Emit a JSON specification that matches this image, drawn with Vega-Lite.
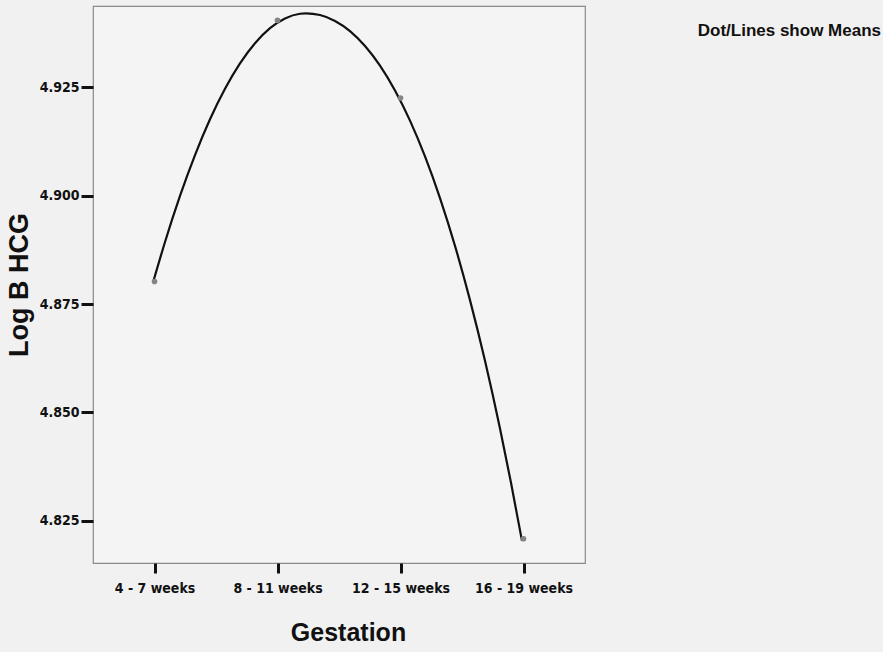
{
  "$schema": "https://vega.github.io/schema/vega-lite/v6.json",
  "width": 492,
  "height": 557,
  "autosize": "none",
  "padding": {"left": 93, "top": 6, "right": 298, "bottom": 89},
  "background": "#f1f1f1",
  "config": {
    "view": {"stroke": "#8a8a8a", "strokeWidth": 1.2, "fill": "#f4f4f4"},
    "font": "Liberation Sans"
  },
  "title": {
    "text": "Dot/Lines show Means",
    "anchor": "end",
    "orient": "top",
    "dx": 296,
    "dy": 38,
    "fontSize": 17,
    "fontWeight": "bold",
    "font": "Liberation Sans",
    "color": "#111"
  },
  "datasets": {
    "means": [
      {"idx": 0, "gestation": "4 - 7 weeks", "mean": 4.8802},
      {"idx": 1, "gestation": "8 - 11 weeks", "mean": 4.9404},
      {"idx": 2, "gestation": "12 - 15 weeks", "mean": 4.9225},
      {"idx": 3, "gestation": "16 - 19 weeks", "mean": 4.8209}
    ],
    "curve": [
      {"idx": -0.0122, "fit": 4.87994},
      {"idx": 0.0854, "fit": 4.8893},
      {"idx": 0.2073, "fit": 4.89992},
      {"idx": 0.3293, "fit": 4.90934},
      {"idx": 0.4512, "fit": 4.91758},
      {"idx": 0.5732, "fit": 4.92461},
      {"idx": 0.6951, "fit": 4.93047},
      {"idx": 0.8171, "fit": 4.93512},
      {"idx": 0.939, "fit": 4.93859},
      {"idx": 1.061, "fit": 4.94084},
      {"idx": 1.1829, "fit": 4.94192},
      {"idx": 1.2317, "fit": 4.94201},
      {"idx": 1.3455, "fit": 4.94162},
      {"idx": 1.4675, "fit": 4.94026},
      {"idx": 1.5894, "fit": 4.93792},
      {"idx": 1.7114, "fit": 4.93449},
      {"idx": 1.8333, "fit": 4.92997},
      {"idx": 1.9553, "fit": 4.92424},
      {"idx": 2.0772, "fit": 4.91728},
      {"idx": 2.1992, "fit": 4.90902},
      {"idx": 2.3211, "fit": 4.89941},
      {"idx": 2.4431, "fit": 4.8884},
      {"idx": 2.565, "fit": 4.8759},
      {"idx": 2.687, "fit": 4.8619},
      {"idx": 2.8089, "fit": 4.84629},
      {"idx": 2.8984, "fit": 4.83378},
      {"idx": 2.9878, "fit": 4.8204}
    ]
  },
  "layer": [
    {
      "data": {"name": "curve"},
      "mark": {"type": "line", "interpolate": "monotone", "color": "#111", "strokeWidth": 2.2},
      "encoding": {
        "x": {
          "field": "idx",
          "type": "quantitative",
          "scale": {"domain": [-0.5, 3.5], "nice": false, "zero": false},
          "axis": {
            "title": "Gestation",
            "titleFontSize": 25,
            "titleFontWeight": "bold",
            "titleFont": "Liberation Sans",
            "titleColor": "#111",
            "titlePadding": 25,
            "titleX": 255,
            "values": [0, 1, 2, 3],
            "labelExpr": "datum.value == 0 ? '4 - 7 weeks' : datum.value == 1 ? '8 - 11 weeks' : datum.value == 2 ? '12 - 15 weeks' : '16 - 19 weeks'",
            "labelAngle": 0,
            "labelFontSize": 14,
            "labelFontWeight": "bold",
            "labelFont": "DejaVu Sans Condensed",
            "labelColor": "#111",
            "labelPadding": 8,
            "labelBound": false,
            "labelOverlap": false,
            "domain": false,
            "tickSize": 10,
            "tickWidth": 3,
            "tickColor": "#111",
            "grid": false
          }
        },
        "y": {
          "field": "fit",
          "type": "quantitative",
          "scale": {"domain": [4.8153, 4.9437], "nice": false, "zero": false},
          "axis": {
            "title": "Log B HCG",
            "titleFontSize": 27,
            "titleFontWeight": "bold",
            "titleFont": "Liberation Sans",
            "titleColor": "#111",
            "titlePadding": 6,
            "values": [4.825, 4.85, 4.875, 4.9, 4.925],
            "format": ".3f",
            "labelFontSize": 14,
            "labelFontWeight": "bold",
            "labelFont": "DejaVu Sans Condensed",
            "labelColor": "#111",
            "labelPadding": 2,
            "domain": false,
            "tickSize": 12,
            "tickWidth": 3,
            "tickColor": "#111",
            "grid": false
          }
        }
      }
    },
    {
      "data": {"name": "means"},
      "mark": {"type": "point", "filled": true, "color": "#858585", "size": 32, "opacity": 1},
      "encoding": {
        "x": {"field": "idx", "type": "quantitative"},
        "y": {"field": "mean", "type": "quantitative"}
      }
    }
  ]
}
